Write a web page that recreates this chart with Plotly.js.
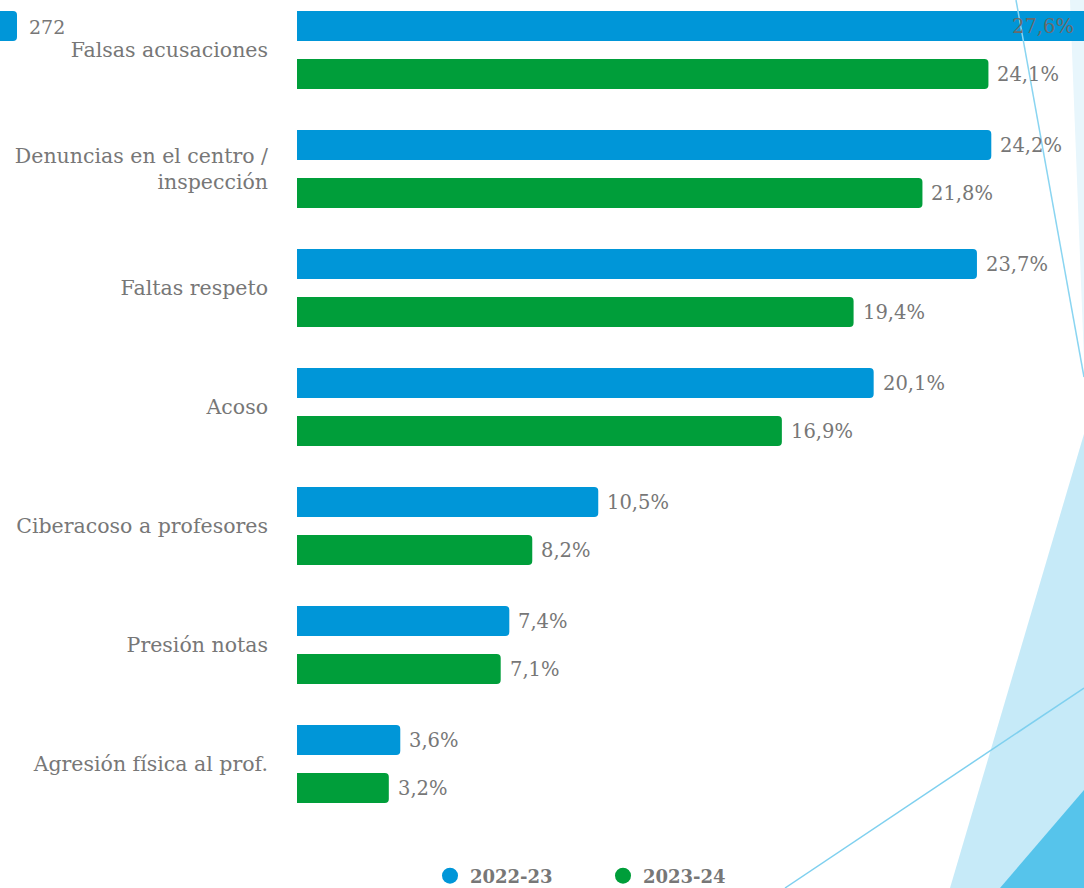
<!DOCTYPE html>
<html>
<head>
<meta charset="utf-8">
<script src="https://cdn.plot.ly/plotly-3.0.1.min.js"></script>
<style>html,body{margin:0;padding:0;background:#fff;overflow:hidden}</style>
</head>
<body>
<div id="chart" style="width:1084px;height:888px"></div>
<script>
const categories = [
  "Falsas acusaciones",
  "Denuncias en el centro /<br>inspección",
  "Faltas respeto",
  "Acoso",
  "Ciberacoso a profesores",
  "Presión notas",
  "Agresión física al prof."
];
const series2223 = [27.6, 24.2, 23.7, 20.1, 10.5, 7.4, 3.6];
const series2324 = [24.1, 21.8, 19.4, 16.9, 8.2, 7.1, 3.2];
const seriesNames = ["2022-23", "2023-24"];
const topNote = "272";

const W = 1084, H = 888;
const L = 297, B = 65;
const plotW = W - L, plotH = H - B;
const pxPerUnit = 28.69;
const xMax = plotW / pxPerUnit;
const catStep = 119;
const yTop = -50 / catStep;
const yBottom = yTop + plotH / catStep;

const blue = "#0096d8", green = "#009e3a", grey = "#777777";
const font = "DejaVu Serif";

function fmt(v) { return v.toFixed(1).replace(".", ",") + "%"; }
function px(x) { return (x - L) / plotW; }
function py(y) { return (plotH - y) / plotH; }

const traces = [
  {type: "bar", orientation: "h", y: categories, x: series2223, name: seriesNames[0],
   marker: {color: blue, cornerradius: 4}, showlegend: false, hoverinfo: "x+y"},
  {type: "bar", orientation: "h", y: categories, x: series2324, name: seriesNames[1],
   marker: {color: green, cornerradius: 4}, showlegend: false, hoverinfo: "x+y"},
  {type: "scatter", mode: "markers", x: [null], y: [null], name: seriesNames[0],
   marker: {color: blue, size: 22, symbol: "circle"}},
  {type: "scatter", mode: "markers", x: [null], y: [null], name: seriesNames[1],
   marker: {color: green, size: 22, symbol: "circle"}}
];

const annotations = [];
[series2223, series2324].forEach((vals, s) => {
  vals.forEach((v, j) => {
    const inside = v > xMax;
    annotations.push({
      x: inside ? xMax : v, y: categories[j], xref: "x", yref: "y",
      text: fmt(v), showarrow: false,
      xanchor: inside ? "right" : "left", yanchor: "middle",
      xshift: inside ? -8 : 7, yshift: s === 0 ? 24 : -24,
      font: {family: font, size: 19.5, color: inside ? "#6a6a6a" : grey}
    });
  });
});
annotations.push({
  xref: "paper", yref: "paper", x: px(27), y: py(27), text: topNote,
  showarrow: false, xanchor: "left", yanchor: "middle",
  font: {family: font, size: 19, color: grey}
});

function poly(pts) {
  return "M" + pts.map(p => px(p[0]) + "," + py(p[1])).join(" L") + " Z";
}

const shapes = [
  {type: "path", xref: "paper", yref: "paper", layer: "below", line: {width: 0},
   fillcolor: "#e8f6fc", path: poly([[1070, 0], [1084, 0], [1084, 360]])},
  {type: "path", xref: "paper", yref: "paper", layer: "below", line: {width: 0},
   fillcolor: "#c6eaf8", path: poly([[1084, 434], [1084, 888], [950, 888]])},
  {type: "path", xref: "paper", yref: "paper", layer: "below", line: {width: 0},
   fillcolor: "#56c4eb", path: poly([[1084, 790], [1084, 888], [1000, 888]])},
  {type: "line", xref: "paper", yref: "paper", layer: "above",
   x0: px(1016), y0: py(0), x1: px(1084), y1: py(377), line: {color: "#8ad5f1", width: 1.5}},
  {type: "line", xref: "paper", yref: "paper", layer: "below",
   x0: px(785), y0: py(888), x1: px(1084), y1: py(688), line: {color: "#7fd0ef", width: 1.5}},
  {type: "path", xref: "paper", yref: "paper", layer: "above", line: {width: 0},
   fillcolor: blue,
   path: "M" + px(0) + "," + py(11) + " L" + px(13) + "," + py(11) +
         " Q" + px(17) + "," + py(11) + " " + px(17) + "," + py(15) +
         " L" + px(17) + "," + py(37) +
         " Q" + px(17) + "," + py(41) + " " + px(13) + "," + py(41) +
         " L" + px(0) + "," + py(41) + " Z"}
];

const layout = {
  width: W, height: H,
  margin: {l: L, r: 0, t: 0, b: B, pad: 0},
  paper_bgcolor: "rgba(0,0,0,0)", plot_bgcolor: "rgba(0,0,0,0)",
  barmode: "group", bargap: 0.193, bargroupgap: 0.375,
  font: {family: font, color: grey},
  xaxis: {range: [0, xMax], visible: false, fixedrange: true},
  yaxis: {type: "category", range: [yBottom, yTop], automargin: false,
          showgrid: false, zeroline: false, showline: false, ticks: "",
          ticklabelstandoff: 28, tickfont: {family: font, size: 20.5, color: grey}},
  showlegend: true,
  legend: {orientation: "h", xref: "container", yref: "container",
           x: 430 / W, y: 12 / H, xanchor: "left", yanchor: "middle",
           font: {family: font, size: 18, color: grey, weight: "bold"},
           entrywidth: 128, entrywidthmode: "pixels",
           bgcolor: "rgba(0,0,0,0)"},
  annotations: annotations,
  shapes: shapes
};

Plotly.newPlot("chart", traces, layout, {displayModeBar: false, staticPlot: true});
</script>
</body>
</html>
